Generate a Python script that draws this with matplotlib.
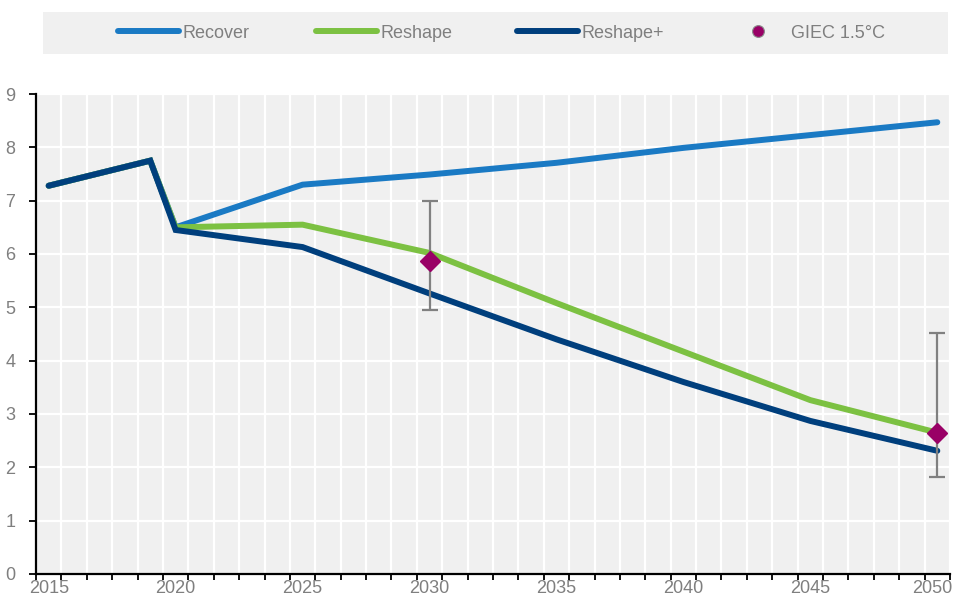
import numpy as np
import matplotlib.pyplot as plt
import matplotlib.transforms as mtransforms
from matplotlib.patches import Rectangle
from matplotlib.lines import Line2D

plt.rcParams['font.family'] = ['Liberation Sans', 'DejaVu Sans']

# historical part shared by every scenario
hist_years = [2015, 2019]
hist_values = [7.28, 7.75]

proj_years = [2020, 2025, 2030, 2035, 2040, 2045, 2050]
recover = [6.50, 7.30, 7.49, 7.71, 7.99, 8.23, 8.47]
reshape = [6.50, 6.55, 6.02, 5.08, 4.17, 3.26, 2.65]
reshape_plus = [6.45, 6.13, 5.26, 4.40, 3.60, 2.87, 2.31]

giec_years = [2030, 2050]
giec_values = [5.86, 2.64]
giec_low = [4.95, 1.82]
giec_high = [6.99, 4.52]

all_years = np.arange(2015, 2051)
label_years = [2015, 2020, 2025, 2030, 2035, 2040, 2045, 2050]

c_recover = '#1a7ac4'
c_reshape = '#7cc142'
c_plus = '#003f7d'
c_giec = '#990066'
grey_txt = '#7f7f7f'
fs = 13


def pos(years):
    return np.asarray(years) - 2015


fig = plt.figure(figsize=(9.55, 5.98), dpi=100)
ax = fig.add_axes([36 / 955, 1 - 574 / 598, 914 / 955, 480 / 598])
ax.set_facecolor('#f0f0f0')

lw = 4.3
for vals, col in [(recover, c_recover), (reshape, c_reshape), (reshape_plus, c_plus)]:
    ax.plot(pos(hist_years + proj_years), hist_values + vals, color=col, lw=lw,
            solid_capstyle='round', solid_joinstyle='miter')

yerr = [np.array(giec_values) - np.array(giec_low), np.array(giec_high) - np.array(giec_values)]
ax.errorbar(pos(giec_years), giec_values, yerr=yerr, fmt='none', ecolor='#808080',
            elinewidth=1.6, capsize=6, capthick=1.6, zorder=4)
ax.plot(pos(giec_years), giec_values, 'D', color=c_giec, ms=10.5, mec=c_giec, zorder=5)

ax.set_xlim(-0.5, len(all_years) - 0.5)
ax.set_ylim(0, 9)

# year boundaries carry the ticks and the grid, labels sit in the middle
ax.set_xticks(np.arange(-0.5, len(all_years)), minor=False)
ax.set_xticklabels([])
ax.set_xticks(pos(label_years), minor=True)
ax.set_xticklabels([str(y) for y in label_years], minor=True)
ax.tick_params(axis='x', which='major', direction='out', length=4, width=1.3, color='black')
ax.tick_params(axis='x', which='minor', length=0, pad=4, labelsize=fs, labelcolor=grey_txt)
ax.set_yticks(range(0, 10))
ax.tick_params(axis='y', direction='out', length=5, width=1.3, pad=10, labelsize=fs,
               labelcolor=grey_txt)

# keep the last year label inside the figure
last = ax.get_xticklabels(minor=True)[-1]
last.set_transform(last.get_transform() +
                   mtransforms.ScaledTranslation(-5 / 100, 0, fig.dpi_scale_trans))

ax.grid(True, which='major', color='white', lw=1.6)
ax.set_axisbelow(True)
for s in ['top', 'right']:
    ax.spines[s].set_visible(False)
for s in ['left', 'bottom']:
    ax.spines[s].set_linewidth(1.6)
    ax.spines[s].set_color('black')

# legend strip, one entry per slot
fig.patches.append(Rectangle((43 / 955, 1 - 54 / 598), 905 / 955, 42 / 598,
                             transform=fig.transFigure, facecolor='#f0f0f0', edgecolor='none'))
handles = [
    Line2D([], [], color=c_recover, lw=lw, solid_capstyle='round'),
    Line2D([], [], color=c_reshape, lw=lw, solid_capstyle='round'),
    Line2D([], [], color=c_plus, lw=lw, solid_capstyle='round'),
    Line2D([], [], ls='none', marker='o', ms=8.5, color=c_giec, mec='#8a8a8a', mew=0.8),
]
labels = ['Recover', 'Reshape', 'Reshape+', 'GIEC 1.5°C']
slots = [118, 316, 517, 727]
for h, lab, x in zip(handles, labels, slots):
    leg = fig.legend([h], [lab], loc='center left', bbox_to_anchor=(x / 955, 1 - 33 / 598),
                     frameon=False, fontsize=fs, labelcolor=grey_txt, handlelength=3.4,
                     handletextpad=0.15, borderaxespad=0, borderpad=0)

fig.savefig('out.png', dpi=100)
